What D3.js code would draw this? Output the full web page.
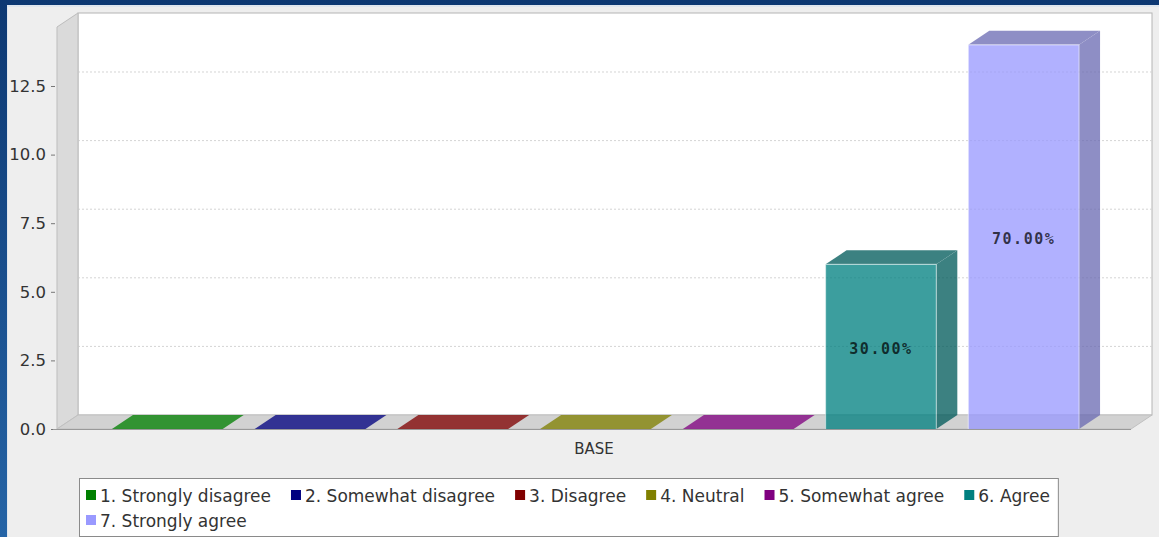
<!DOCTYPE html>
<html>
<head>
<meta charset="utf-8">
<script src="https://cdn.jsdelivr.net/npm/d3@7"></script>
<style>
  html, body { margin: 0; padding: 0; background: #eeeeee; }
  svg { display: block; }
</style>
</head>
<body>
<svg id="chart" width="1159" height="537"></svg>
<script>
// ---------------- data ----------------
const categories = ["BASE"];
const seriesNames = [
  "1. Strongly disagree",
  "2. Somewhat disagree",
  "3. Disagree",
  "4. Neutral",
  "5. Somewhat agree",
  "6. Agree",
  "7. Strongly agree"
];
const seriesValues = [0, 0, 0, 0, 0, 6, 14];
const yTickValues = [0, 2.5, 5.0, 7.5, 10.0, 12.5];
const yTickLabels = ["0.0", "2.5", "5.0", "7.5", "10.0", "12.5"];

// palette (styles)
const palette = ["#008000", "#000080", "#800000", "#808000", "#800080", "#008080", "#9999ff"];

// ---------------- layout ----------------
const W = 1159, H = 537;
const svg = d3.select("#chart");
const depthX = 21, depthY = 14;
const alpha = 0.76;

// frame
const defs = svg.append("defs");
const grad = defs.append("linearGradient").attr("id", "frameGrad")
  .attr("x1", 0).attr("y1", 0).attr("x2", 0).attr("y2", 1);
grad.append("stop").attr("offset", "0%").attr("stop-color", "#0d3872");
grad.append("stop").attr("offset", "100%").attr("stop-color", "#2564a6");

svg.append("rect").attr("x", 0).attr("y", 0).attr("width", W).attr("height", H).attr("fill", "url(#frameGrad)");
svg.append("rect").attr("x", 7).attr("y", 5).attr("width", W - 7).attr("height", H - 5).attr("fill", "#dfe6ee");
svg.append("rect").attr("x", 8).attr("y", 7).attr("width", W - 8).attr("height", H - 7).attr("fill", "#eeeeee");

// scales
const y = d3.scaleLinear().domain([0, 14.65]).range([429, 27]);
const xCat = d3.scaleBand().domain(categories).range([57, 1131]).padding(0);
const xSer = d3.scaleBand().domain(seriesNames)
  .range([xCat(categories[0]) + 5, xCat(categories[0]) + xCat.bandwidth() - 2])
  .paddingInner(0.224).paddingOuter(0.35);

const frontL = xCat.range()[0], frontR = xCat.range()[1];
const y0 = y(0), yTop = y(y.domain()[1]);

// back wall (white)
svg.append("rect")
  .attr("x", frontL + depthX).attr("y", yTop - depthY)
  .attr("width", frontR - frontL).attr("height", y0 - yTop)
  .attr("fill", "#ffffff").attr("stroke", "#b4b4b4").attr("stroke-width", 1);

// gridlines on back wall
svg.append("g").selectAll("line").data(yTickValues.filter(d => d > 0)).join("line")
  .attr("x1", frontL + depthX).attr("x2", frontR + depthX)
  .attr("y1", d => y(d) - depthY).attr("y2", d => y(d) - depthY)
  .attr("stroke", "#d4d4d4").attr("stroke-width", 1).attr("stroke-dasharray", "2,2");

// left wall
svg.append("polygon")
  .attr("points", [
    [frontL, yTop], [frontL + depthX, yTop - depthY],
    [frontL + depthX, y0 - depthY], [frontL, y0]
  ].map(p => p.join(",")).join(" "))
  .attr("fill", "#dadada").attr("stroke", "#bdbdbd").attr("stroke-width", 1);

// floor
svg.append("polygon")
  .attr("points", [
    [frontL, y0], [frontL + depthX, y0 - depthY],
    [frontR + depthX, y0 - depthY], [frontR, y0]
  ].map(p => p.join(",")).join(" "))
  .attr("fill", "#d2d2d2").attr("stroke", "#c0c0c0").attr("stroke-width", 1);

// y axis
const yAxis = d3.axisLeft(y).tickValues(yTickValues)
  .tickFormat((d, i) => yTickLabels[i]).tickSize(4).tickPadding(5);
const gy = svg.append("g").attr("transform", `translate(${frontL - 2},0)`).call(yAxis);
gy.select(".domain").remove();
gy.selectAll(".tick line").attr("stroke", "#777");
gy.selectAll(".tick text").attr("font-family", "DejaVu Sans").attr("font-size", 16.5).attr("fill", "#333");

// axis line along floor front
svg.append("line").attr("x1", frontL - 4).attr("x2", frontR).attr("y1", y0 + 0.5).attr("y2", y0 + 0.5)
  .attr("stroke", "#999").attr("stroke-width", 1);

// bars
const barData = seriesNames.map((s, i) => ({ name: s, value: seriesValues[i], color: palette[i] }));
const total = d3.sum(seriesValues);
const gBars = svg.append("g");
barData.forEach(d => {
  const x0 = xSer(d.name), x1 = x0 + xSer.bandwidth();
  const yt = y(d.value);
  const base = d3.color(d.color);
  const dark = d3.rgb(base.r * 0.7, base.g * 0.7, base.b * 0.7);
  const g = gBars.append("g").attr("opacity", alpha);
  // side face
  g.append("polygon")
    .attr("points", [[x1, yt], [x1 + depthX, yt - depthY], [x1 + depthX, y0 - depthY], [x1, y0]].map(p => p.join(",")).join(" "))
    .attr("fill", dark);
  // top face
  g.append("polygon")
    .attr("points", [[x0, yt], [x0 + depthX, yt - depthY], [x1 + depthX, yt - depthY], [x1, yt]].map(p => p.join(",")).join(" "))
    .attr("fill", d.value > 0 ? dark : base);
  // front face
  if (d.value > 0) {
    g.append("rect").attr("x", x0).attr("y", yt).attr("width", x1 - x0).attr("height", y0 - yt)
      .attr("fill", base);
    gBars.append("path")
      .attr("d", `M${x0},${y0} L${x0},${yt} L${x1},${yt} L${x1},${y0}`)
      .attr("fill", "none").attr("stroke", "#ffffff").attr("stroke-opacity", 0.45).attr("stroke-width", 1.2);
    gBars.append("text")
      .attr("x", (x0 + x1) / 2).attr("y", (yt + y0) / 2 + 2)
      .attr("text-anchor", "middle").attr("dominant-baseline", "central")
      .attr("font-family", "DejaVu Sans Mono").attr("font-weight", "bold")
      .attr("font-size", 15).attr("letter-spacing", 1.5)
      .attr("fill", "#000").attr("fill-opacity", 0.72)
      .text((d.value / total * 100).toFixed(2) + "%");
  }
});

// category label
svg.append("text")
  .attr("x", xCat(categories[0]) + xCat.bandwidth() / 2).attr("y", 449)
  .attr("text-anchor", "middle").attr("dominant-baseline", "central")
  .attr("font-family", "DejaVu Sans").attr("font-size", 15).attr("fill", "#333")
  .text(categories[0]);

// legend
const legX = 79, legY = 478, legMaxW = 1000;
const legG = svg.append("g");
const legBox = legG.append("rect").attr("x", legX + 0.5).attr("y", legY + 0.5)
  .attr("height", 58).attr("fill", "#ffffff").attr("stroke", "#8a8a8a").attr("stroke-width", 1);
const rowYs = [495, 520];
let cx = legX + 7, row = 0, maxRight = 0;
const itemsG = legG.append("g");
seriesNames.forEach((s, i) => {
  const t = itemsG.append("text")
    .attr("font-family", "DejaVu Sans").attr("font-size", 17).attr("fill", "#333")
    .attr("dominant-baseline", "central").text(s);
  const tw = t.node().getComputedTextLength();
  const itemW = 14 + tw;
  if (cx + itemW > legX + legMaxW) { row++; cx = legX + 7; }
  itemsG.append("rect").attr("x", cx).attr("y", rowYs[row] - 5).attr("width", 10).attr("height", 10)
    .attr("fill", palette[i]);
  t.attr("x", cx + 14).attr("y", rowYs[row] + 1);
  maxRight = Math.max(maxRight, cx + itemW);
  cx += itemW + 20;
});
legBox.attr("width", maxRight + 8 - legX);
</script>
</body>
</html>
